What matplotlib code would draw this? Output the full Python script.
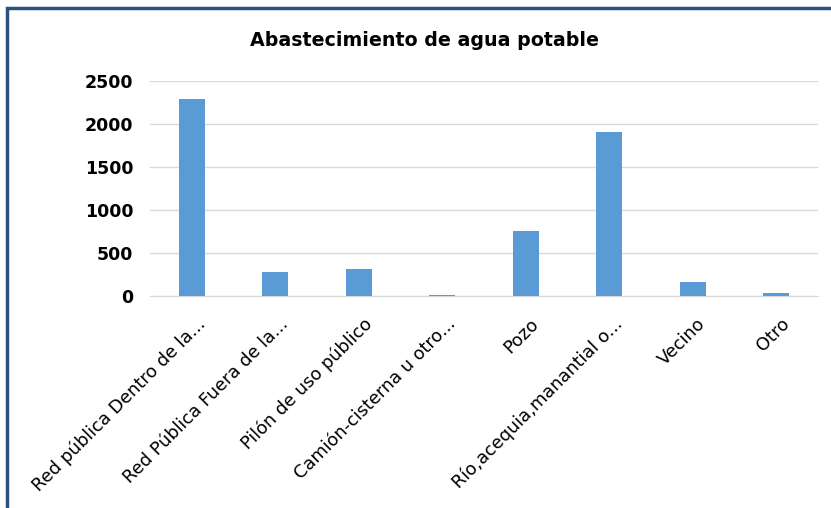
import matplotlib.pyplot as plt
from matplotlib.patches import Rectangle
import matplotlib.transforms as mtransforms

# Data
categories = [
    'Red pública Dentro de la...',
    'Red Pública Fuera de la...',
    'Pilón de uso público',
    'Camión-cisterna u otro...',
    'Pozo',
    'Río,acequia,manantial o...',
    'Vecino',
    'Otro',
]
values = [2295, 283, 310, 12, 752, 1907, 166, 35]
yticks = [0, 500, 1000, 1500, 2000, 2500]

fig = plt.figure(figsize=(8.31, 5.08), dpi=100)
ax = fig.add_axes([150 / 831, 212 / 508, 668 / 831, 215 / 508])

x = list(range(len(categories)))
ax.bar(x, values, width=0.31, color='#5B9BD5', zorder=3)

ax.set_xlim(-0.5, len(categories) - 0.5)
ax.set_ylim(0, 2500)
ax.set_yticks(yticks)
ax.set_yticklabels([str(t) for t in yticks], fontsize=12.5, fontweight='bold')
ax.grid(axis='y', color='#D9D9D9', linewidth=1, zorder=0)
ax.tick_params(axis='both', length=0)
ax.tick_params(axis='y', pad=12)
for side in ['top', 'right', 'left']:
    ax.spines[side].set_visible(False)
ax.spines['bottom'].set_color('#D9D9D9')

ax.set_xticks(x)
ax.set_xticklabels(categories, rotation=45, ha='right', va='top',
                   rotation_mode='anchor', fontsize=12.8)
offset = mtransforms.ScaledTranslation(4 / 100, -14 / 100, fig.dpi_scale_trans)
for lbl in ax.get_xticklabels():
    lbl.set_transform(lbl.get_transform() + offset)

fig.text(425 / 831, 1 - 41 / 508, 'Abastecimiento de agua potable',
         ha='center', va='center', fontsize=13.7, fontweight='bold')

# dark blue frame on the top and left edges
fig.patches.append(Rectangle((7 / 831, -0.1), 1.1, 1 - 8.5 / 508 + 0.1,
                             transform=fig.transFigure, fill=False,
                             edgecolor='#2B5280', linewidth=2.5))

plt.savefig('out.png', dpi=100)
